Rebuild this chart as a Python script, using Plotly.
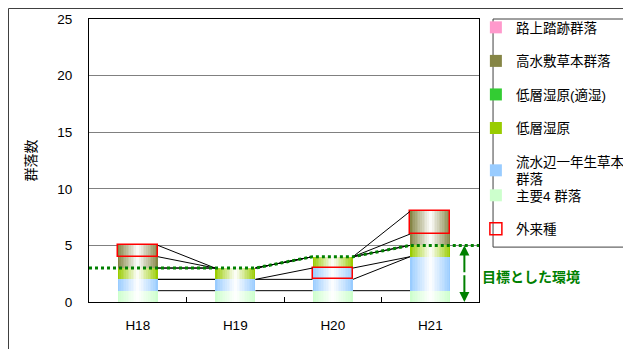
import plotly.graph_objects as go

# ---------------- data ----------------
categories = ["H18", "H19", "H20", "H21"]
shuyo4 = [1, 1, 1, 1]            # 主要4群落
ryusui_native = [1, 1, 1, 3]     # 流水辺一年生草本群落 (在来)
ryusui_alien = [0, 0, 1, 0]      # 流水辺一年生草本群落 (外来種)
teiso = [1, 1, 1, 1]             # 低層湿原
teiso_tekishitsu = [0, 0, 0, 0]  # 低層湿原(適湿)
kousui_native = [1, 0, 0, 1]     # 高水敷草本群落 (在来)
kousui_alien = [1, 0, 0, 2]      # 高水敷草本群落 (外来種)
rojo = [0, 0, 0, 0]              # 路上踏跡群落

y_ticks = [0, 5, 10, 15, 20, 25]

# ---------------- styling ----------------
FONT = "Liberation Sans, Arial, Noto Sans CJK JP, sans-serif"
BAR_W = 0.415
HW = BAR_W / 2
N_LAYERS = 12

def mix(hexcol, f):
    hexcol = hexcol.lstrip("#")
    r, g, b = (int(hexcol[i:i + 2], 16) for i in (0, 2, 4))
    r = round(255 + (r - 255) * f)
    g = round(255 + (g - 255) * f)
    b = round(255 + (b - 255) * f)
    return f"rgb({r},{g},{b})"

x_idx = list(range(len(categories)))
n = len(categories)

def add(a, b):
    return [p + q for p, q in zip(a, b)]

ryusui_total = add(ryusui_native, ryusui_alien)
kousui_total = add(kousui_native, kousui_alien)

# stacked series (bottom -> top): name, values, colour, legend rank, legend id
series = [
    ("主要4 群落", shuyo4, "#CCFFCC", 6, "legend2"),
    ("流水辺一年生草本<br>群落", ryusui_total, "#99CCFF", 5, "legend"),
    ("低層湿原", teiso, "#99CC00", 4, "legend"),
    ("低層湿原(適湿)", teiso_tekishitsu, "#33CC33", 3, "legend"),
    ("高水敷草本群落", kousui_total, "#858545", 2, "legend"),
    ("路上踏跡群落", rojo, "#FF99CC", 1, "legend"),
]

fig = go.Figure()

base = [0] * n
for name, vals, col, rank, lg in series:
    for k in range(N_LAYERS):
        w = BAR_W * (1 - k / N_LAYERS)
        f = 1 - (k + 0.5) / N_LAYERS if k > 0 else 1.0
        fig.add_trace(go.Bar(
            x=x_idx, y=[v if v else None for v in vals], base=base,
            width=w, marker=dict(color=mix(col, f), line=dict(width=0)),
            name=name, legendgroup=name, legendrank=rank, legend=lg,
            showlegend=(k == 0), hoverinfo="skip",
        ))
    base = add(base, vals)

# 外来種 outlines
ryusui_alien_base = add(shuyo4, ryusui_native)
kousui_alien_base = add(add(add(add(shuyo4, ryusui_total), teiso), teiso_tekishitsu), kousui_native)
alien_y = [a if a else b for a, b in zip(ryusui_alien, kousui_alien)]
alien_base = [rb if ra else kb for ra, rb, kb in zip(ryusui_alien, ryusui_alien_base, kousui_alien_base)]
fig.add_trace(go.Bar(
    x=x_idx, y=[v if v else None for v in alien_y], base=alien_base, width=BAR_W,
    marker=dict(color="rgba(0,0,0,0)", line=dict(color="#FF0000", width=1.5)),
    name="外来種", legendgroup="外来種", legendrank=7, legend="legend2", hoverinfo="skip",
))

# series lines connecting segment tops
tops = []
c = list(shuyo4); tops.append(c)
c = add(c, ryusui_native); tops.append(c)
c = add(c, ryusui_alien); tops.append(c)
c = add(c, teiso); tops.append(c)
c = add(c, teiso_tekishitsu); target = c; tops.append(c)
c = add(c, kousui_native); tops.append(c)
c = add(c, kousui_alien); tops.append(c)
lx, ly = [], []
for t in tops:
    for i in range(n - 1):
        lx += [i + HW, i + 1 - HW, None]
        ly += [t[i], t[i + 1], None]
fig.add_trace(go.Scatter(x=lx, y=ly, mode="lines", line=dict(color="black", width=1),
                         showlegend=False, hoverinfo="skip"))

# target environment dotted line
tx, ty = [-0.5], [target[0]]
for i in range(n):
    tx += [i - HW, i + HW]
    ty += [target[i], target[i]]
tx.append(n - 0.5); ty.append(target[-1])
fig.add_trace(go.Scatter(x=tx, y=ty, mode="lines",
                         line=dict(color="#008000", width=3, dash="dot"),
                         showlegend=False, hoverinfo="skip"))

# arrow for target range
ARROW_X = 3.35
mid = target[-1] / 2
for end in (0, target[-1]):
    fig.add_annotation(x=ARROW_X, y=end, ax=ARROW_X, ay=mid, xref="x", yref="y",
                       axref="x", ayref="y", text="", showarrow=True,
                       arrowhead=2, arrowsize=1, arrowwidth=2, arrowcolor="#008000")
fig.add_annotation(x=1.003, y=2.2, xref="paper", yref="y", xanchor="left",
                   text="<b>目標とした環境</b>", showarrow=False,
                   font=dict(size=14, color="#008000", family=FONT))

# outer chart frame (top and left visible) and legend frame
fig.add_shape(type="rect", xref="paper", yref="paper", x0=-0.2064, x1=1.6, y0=-0.3, y1=1.0371,
              line=dict(color="#404040", width=1), fillcolor="rgba(0,0,0,0)", layer="above")
fig.add_shape(type="rect", xref="paper", yref="paper", x0=1.036, x1=1.6, y0=0.194, y1=1.0,
              line=dict(color="#404040", width=1), fillcolor="rgba(0,0,0,0)", layer="above")

legend_common = dict(xanchor="left", yanchor="top", borderwidth=0,
                     bgcolor="rgba(0,0,0,0)", font=dict(size=13.5),
                     tracegroupgap=13, traceorder="grouped")
fig.update_layout(
    width=631, height=349,
    margin=dict(l=81, r=160, t=11, b=55, autoexpand=False),
    paper_bgcolor="white", plot_bgcolor="white",
    barmode="overlay", bargap=0,
    font=dict(family=FONT, size=13.5, color="black"),
    legend=dict(x=0.992, y=1.0245, maxheight=320, **legend_common),
    legend2=dict(x=0.992, y=0.431, **legend_common),
    showlegend=True,
)
fig.update_xaxes(range=[-0.5, n - 0.5], tickmode="array", tickvals=x_idx, ticktext=categories,
                 showgrid=False, showline=True, linecolor="black", linewidth=1, mirror=True,
                 ticks="", ticklabelstandoff=11, zeroline=False,
                 minor=dict(tickmode="array", tickvals=[i + 0.5 for i in range(n - 1)],
                            ticks="inside", ticklen=5, tickcolor="black"))
fig.update_yaxes(range=[0, 25], tickmode="array", tickvals=y_ticks,
                 showgrid=True, gridcolor="#808080", gridwidth=1,
                 showline=True, linecolor="black", linewidth=1, mirror=True,
                 ticks="", ticklabelstandoff=13, zeroline=False,
                 title=dict(text="群落数", standoff=17, font=dict(size=14)))

fig.write_html("out.html")
